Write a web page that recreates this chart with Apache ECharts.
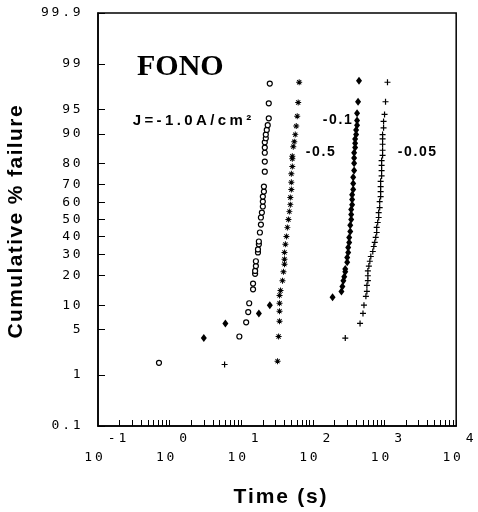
<!DOCTYPE html>
<html><head><meta charset="utf-8">
<script src="https://cdn.jsdelivr.net/npm/echarts@6/dist/echarts.min.js"></script>
<style>html,body{margin:0;padding:0;background:#fff}#c{width:478px;height:512px}</style>
</head><body><div id="c"></div>
<script>
// ---- data (time in seconds, cumulative % failure) ----
const yTickLabels = ['0.1','1','5','10','20','30','40','50','60','70','80','90','95','99','99.9'];
const xDecadeExponents = [-1,0,1,2,3,4];
const xMinorMultipliers = [2,3,4,5,6,7,8,9,10];

// J = -1.0 A/cm2 (open circles)
const timeJ10 = [0.71,9.4,11.7,12.5,12.9,14.6,14.6,15.6,15.6,16.0,16.0,17.1,17.1,17.6,17.6,18.2,18.8,18.8,19.4,20.0,20.0,20.0,20.7,20.7,21.3,21.3,21.3,21.3,21.3,22.0,22.0,22.7,23.4,24.2,24.2,25.0];
const pctJ10  = [1.6,4.0,6.2,8.3,10.5,14.8,16.9,20.8,22.1,24.3,26.6,31.1,32.7,35.5,37.1,42.3,47.0,51.2,54.1,57.7,60.6,63.4,66.2,68.9,76.3,80.7,84.1,85.9,87.6,88.8,89.8,91.0,92.1,93.5,95.9,97.9];

// J = -0.5 (asterisks)
const timeJ05 = [32.1,33.2,34.2,34.2,34.2,34.2,35.3,37.6,38.8,40.1,40.1,40.1,41.3,42.7,44.0,45.5,46.9,48.4,48.4,50.0,50.0,50.0,51.6,51.6,51.6,53.2,54.9,56.7,58.5,60.4,62.3,64.3];
const pctJ05  = [1.7,4.0,6.4,8.5,10.5,12.8,14.4,18.0,21.7,25.2,27.6,31.1,35.5,40.0,45.3,50.0,54.7,58.8,62.9,67.3,71.1,75.3,78.6,81.8,82.8,86.2,87.8,89.8,91.9,93.9,96.0,98.0];

// J = -0.1 (filled diamonds)
const timeJ01 = [3.0,6.0,17.6,25.0,188,250,258,266,274,283,283,301,301,311,311,321,321,332,332,342,342,342,353,353,353,365,365,365,376,376,376,376,388,388,388,401,401,413,413,413,427,440];
const pctJ01  = [3.8,6.0,8.0,10.0,12.2,14.1,15.8,18.0,19.6,21.7,22.9,26.1,28.5,31.1,33.8,36.6,39.4,42.9,46.5,50.0,53.0,55.9,58.8,61.7,64.5,67.3,70.5,73.7,76.8,80.0,82.1,84.1,85.9,87.3,88.6,89.8,91.0,92.1,93.1,94.4,96.1,98.1];

// J = -0.05 (plus)
const timeJ005 = [5.85,283,455,500,516,549,567,567,585,585,585,604,623,643,685,707,730,753,777,777,802,828,828,855,855,882,882,882,882,910,910,910,910,939,939,939,939,939,969,969,1000,1032,1099];
const pctJ005  = [1.5,3.8,6.0,8.0,10.0,12.5,14.1,16.2,18.0,20.0,22.1,24.3,26.6,29.0,31.6,34.3,36.6,39.4,42.3,45.3,48.2,51.2,54.1,57.1,60.6,63.4,66.2,68.9,71.6,74.3,76.8,79.1,81.1,83.1,85.0,87.0,88.6,89.8,91.5,92.9,94.2,96.1,98.0];

// ---- helpers ----
function probit(p){
  const a=[-3.969683028665376e+01,2.209460984245205e+02,-2.759285104469687e+02,1.383577518672690e+02,-3.066479806614716e+01,2.506628277459239e+00];
  const b=[-5.447609879822406e+01,1.615858368580409e+02,-1.556989798598866e+02,6.680131188771972e+01,-1.328068155288572e+01];
  const c=[-7.784894002430293e-03,-3.223964580411365e-01,-2.400758277161838e+00,-2.549732539343734e+00,4.374664141464968e+00,2.938163982698783e+00];
  const d=[7.784695709041462e-03,3.224671290700398e-01,2.445134137142996e+00,3.754408661907416e+00];
  const pl=0.02425, ph=1-pl; let q,r;
  if(p<pl){q=Math.sqrt(-2*Math.log(p));return (((((c[0]*q+c[1])*q+c[2])*q+c[3])*q+c[4])*q+c[5])/((((d[0]*q+d[1])*q+d[2])*q+d[3])*q+1);}
  if(p<=ph){q=p-0.5;r=q*q;return (((((a[0]*r+a[1])*r+a[2])*r+a[3])*r+a[4])*r+a[5])*q/(((((b[0]*r+b[1])*r+b[2])*r+b[3])*r+b[4])*r+1);}
  q=Math.sqrt(-2*Math.log(1-p));return -(((((c[0]*q+c[1])*q+c[2])*q+c[3])*q+c[4])*q+c[5])/((((d[0]*q+d[1])*q+d[2])*q+d[3])*q+1);
}
function pts(ts, ps){ return ts.map((t,i)=>[t, probit(ps[i]/100)]); }
function sp(str, key){ return str.split('').map(ch=>'{'+key+'|'+ch+'}').join(''); }

const yTickVals = yTickLabels.map(l=>probit(parseFloat(l)/100));
const yMin = yTickVals[0], yMax = yTickVals[yTickVals.length-1];
const xTickVals = [];
xDecadeExponents.slice(0,-1).forEach(e=>xMinorMultipliers.forEach(m=>xTickVals.push(+(m*Math.pow(10,e)).toPrecision(6))));

const MONO = '"DejaVu Sans Mono", "Liberation Mono", monospace';
const SANS = '"Liberation Sans", Arial, sans-serif';
const monoChar = {fontFamily:MONO, fontSize:13, color:'#000', padding:[0,1.4], lineHeight:19};

const asteriskPath = 'path://M4.2 0h1.6v10h-1.6zM0 4.2h10v1.6h-10zM1 2.1L2.1 1L9 7.9L7.9 9zM7.9 1L9 2.1L2.1 9L1 7.9z';
const plusPath = 'path://M4 0h2v10h-2zM0 4h10v2h-10z';

const chart = echarts.init(document.getElementById('c'), null, {renderer:'canvas'});
chart.setOption({
  animation:false,
  backgroundColor:'#fff',
  grid:{left:98, right:15, top:13, bottom:86, show:true, borderColor:'#000', borderWidth:1.5, containLabel:false},
  xAxis:{
    type:'log', logBase:10, min:0.1, max:10000,
    axisLine:{onZero:false, lineStyle:{color:'#000', width:1.5}},
    axisTick:{inside:true, length:6, customValues:xTickVals, lineStyle:{color:'#000', width:1}},
    splitLine:{show:false}, minorTick:{show:false},
    axisLabel:{
      margin:3, showMinLabel:true, showMaxLabel:true,
      formatter:function(v){
        const e = String(Math.round(Math.log10(v)));
        return '{s'+e.length+'| }'+sp(e,'c')+'\n'+sp('10','c')+'{s0| }';
      },
      rich:{c:monoChar, s1:{width:27, lineHeight:19, fontSize:13}, s2:{width:38, lineHeight:19, fontSize:13}, s0:{width:9, lineHeight:19, fontSize:13}}
    }
  },
  yAxis:{
    type:'value', min:yMin, max:yMax,
    axisLine:{onZero:false, lineStyle:{color:'#000', width:1.5}},
    axisTick:{inside:true, length:7, customValues:yTickVals, lineStyle:{color:'#000', width:1}},
    splitLine:{show:false},
    axisLabel:{
      customValues:yTickVals, margin:16, showMinLabel:true, showMaxLabel:true,
      formatter:function(v){
        let best=0, bd=1e9;
        yTickVals.forEach((t,i)=>{const dd=Math.abs(t-v); if(dd<bd){bd=dd;best=i;}});
        return sp(yTickLabels[best],'c');
      },
      rich:{c:monoChar}
    }
  },
  graphic:[
    {type:'text', left:137, top:52, style:{text:'FONO', font:'bold 30px "Liberation Serif", "Times New Roman", serif', fill:'#000'}},
    {type:'text', x:131, y:121, style:{text:sp('J=-1.0A/cm²','j'), textVerticalAlign:'middle', rich:{j:{fontFamily:SANS, fontWeight:'bold', fontSize:15, padding:[0,1.7], fill:'#000'}}}},
    {type:'text', x:322, y:120, style:{text:sp('-0.1','a'), textVerticalAlign:'middle', rich:{a:{fontFamily:SANS, fontWeight:'bold', fontSize:14, padding:[0,0.8], fill:'#000'}}}},
    {type:'text', x:305, y:152, style:{text:sp('-0.5','a'), textVerticalAlign:'middle', rich:{a:{fontFamily:SANS, fontWeight:'bold', fontSize:14, padding:[0,0.8], fill:'#000'}}}},
    {type:'text', x:397, y:152, style:{text:sp('-0.05','a'), textVerticalAlign:'middle', rich:{a:{fontFamily:SANS, fontWeight:'bold', fontSize:14, padding:[0,0.8], fill:'#000'}}}},
    {type:'text', x:16, y:222, rotation:Math.PI/2, style:{text:sp('Cumulative % failure','n'), textAlign:'center', textVerticalAlign:'middle', rich:{n:{fontFamily:SANS, fontWeight:'bold', fontSize:21, padding:[0,0.7], fill:'#000'}}}},
    {type:'text', x:280, y:497, style:{text:sp('Time (s)','n'), textAlign:'center', textVerticalAlign:'middle', rich:{n:{fontFamily:SANS, fontWeight:'bold', fontSize:21, padding:[0,0.9], fill:'#000'}}}}
  ],
  series:[
    {name:'-1.0', type:'scatter', data:pts(timeJ10,pctJ10), symbol:'circle', symbolSize:5, itemStyle:{color:'#fff', borderColor:'#000', borderWidth:1.2, opacity:1}},
    {name:'-0.5', type:'scatter', data:pts(timeJ05,pctJ05), symbol:asteriskPath, symbolSize:6, itemStyle:{color:'#000', opacity:1}},
    {name:'-0.1', type:'scatter', data:pts(timeJ01,pctJ01), symbol:'diamond', symbolSize:[6,8], itemStyle:{color:'#000', opacity:1}},
    {name:'-0.05', type:'scatter', data:pts(timeJ005,pctJ005), symbol:plusPath, symbolSize:6, itemStyle:{color:'#000', opacity:1}}
  ]
});
</script></body></html>
